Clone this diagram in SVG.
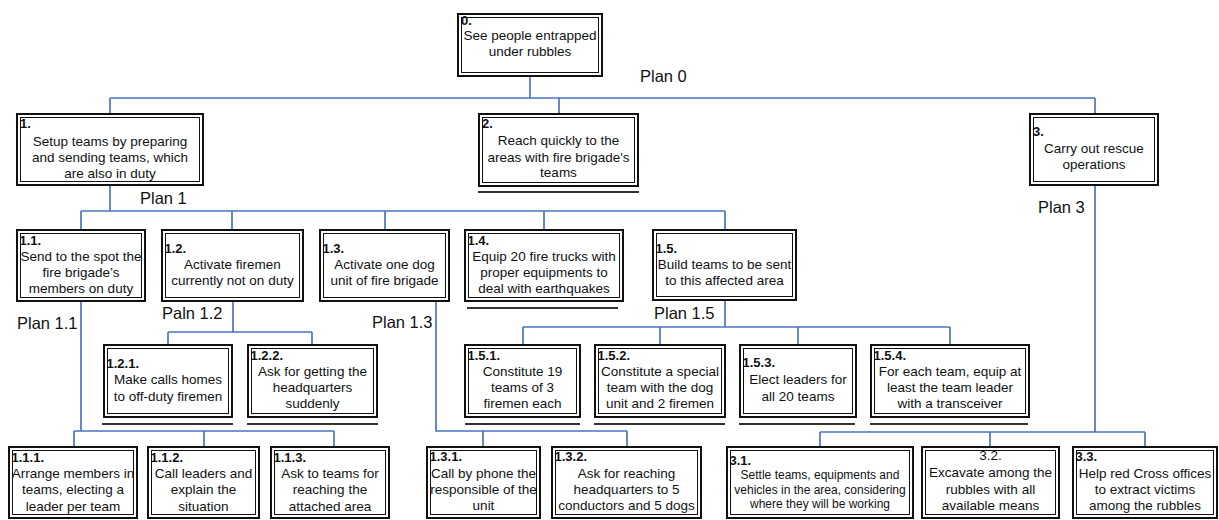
<svg xmlns="http://www.w3.org/2000/svg" width="1219" height="520" viewBox="0 0 1219 520">
  <style>
    .o { fill: #fff; stroke: #111; stroke-width: 2; }
    .i { fill: none; stroke: #111; stroke-width: 1; }
    text { font-family: "Liberation Sans", Arial, sans-serif; fill: #111; }
    .lbl { font-size: 13px; font-weight: bold; }
    .t { font-size: 13.5px; text-anchor: middle; }
    .ts { font-size: 12px; text-anchor: middle; }
    .plan { font-size: 16.5px; }
    .lk { fill: none; stroke: #4a74c0; stroke-width: 1.7; }
    .leaf { stroke: #333; stroke-width: 2; }
  </style>

  <!-- connectors -->
  <g id="connectors" class="lk">
    <path d="M530,77 V98 M110,98 H1095 M110,98 V113 M559,98 V113 M1095,98 V113"/>
    <path d="M110,186 V211 M81,211 H725 M81,211 V229 M232,211 V229 M385,211 V229 M544,211 V229 M725,211 V229"/>
    <path d="M81,302 V431 M74,431 H334 M74,431 V446 M204,431 V446 M334,431 V446"/>
    <path d="M233,302 V332 M168,332 H312 M168,332 V344 M312,332 V344"/>
    <path d="M436,302 V431 H627 M483,431 V446 M627,431 V446"/>
    <path d="M725,301 V327 M523,327 H950 M523,327 V344 M660,327 V344 M798,327 V344 M950,327 V344"/>
    <path d="M1095,186 V432 M820,432 H1145 M820,432 V446 M990,432 V446 M1145,432 V446"/>
  </g>

  <!-- leaf markers under undecomposed tasks -->
  <g id="leaf-marks" class="leaf">
    <line x1="478" y1="192" x2="639" y2="192"/>
    <line x1="467" y1="308" x2="618" y2="308"/>
    <line x1="102" y1="424" x2="233" y2="424"/>
    <line x1="247" y1="424" x2="378" y2="424"/>
    <line x1="465" y1="424" x2="580" y2="424"/>
    <line x1="594" y1="424" x2="725" y2="424"/>
    <line x1="739" y1="424" x2="855" y2="424"/>
    <line x1="870" y1="424" x2="1028" y2="424"/>
  </g>

  <!-- plan labels -->
  <g id="plans" class="plan">
    <text x="640" y="82">Plan 0</text>
    <text x="140" y="204">Plan 1</text>
    <text x="17" y="329">Plan 1.1</text>
    <text x="162" y="319">Paln 1.2</text>
    <text x="372" y="328">Plan 1.3</text>
    <text x="654" y="319">Plan 1.5</text>
    <text x="1038" y="213">Plan 3</text>
  </g>

  <!-- level 0 -->
  <g id="n0">
    <rect class="o" x="458" y="14" width="144" height="62"/>
    <rect class="i" x="461.5" y="17.5" width="137" height="55"/>
    <text class="lbl" x="461" y="25">0.</text>
    <text class="t" x="530" y="40">See people entrapped</text>
    <text class="t" x="530" y="56">under rubbles</text>
  </g>

  <!-- level 1 -->
  <g id="n1">
    <rect class="o" x="17" y="114" width="186" height="71"/>
    <rect class="i" x="20.5" y="117.5" width="179" height="64"/>
    <text class="lbl" x="20" y="128">1.</text>
    <text class="t" x="110" y="146">Setup teams by preparing</text>
    <text class="t" x="110" y="162">and sending teams, which</text>
    <text class="t" x="110" y="178">are also in duty</text>
  </g>
  <g id="n2">
    <rect class="o" x="479" y="114" width="159" height="72"/>
    <rect class="i" x="482.5" y="117.5" width="152" height="65"/>
    <text class="lbl" x="482" y="128">2.</text>
    <text class="t" x="558.5" y="145">Reach quickly to the</text>
    <text class="t" x="558.5" y="161.5">areas with fire brigade's</text>
    <text class="t" x="558.5" y="177">teams</text>
  </g>
  <g id="n3">
    <rect class="o" x="1030" y="114" width="128" height="71"/>
    <rect class="i" x="1033.5" y="117.5" width="121" height="64"/>
    <text class="lbl" x="1033" y="136">3.</text>
    <text class="t" x="1094" y="153">Carry out rescue</text>
    <text class="t" x="1094" y="169">operations</text>
  </g>

  <!-- level 2 -->
  <g id="n1-1">
    <rect class="o" x="17" y="230" width="128" height="71"/>
    <rect class="i" x="20.5" y="233.5" width="121" height="64"/>
    <text class="lbl" x="19.5" y="245">1.1.</text>
    <text class="t" x="81" y="261">Send to the spot the</text>
    <text class="t" x="81" y="277">fire brigade’s</text>
    <text class="t" x="81" y="293">members on duty</text>
  </g>
  <g id="n1-2">
    <rect class="o" x="162" y="230" width="141" height="71"/>
    <rect class="i" x="165.5" y="233.5" width="134" height="64"/>
    <text class="lbl" x="164.5" y="253">1.2.</text>
    <text class="t" x="232.5" y="269">Activate firemen</text>
    <text class="t" x="232.5" y="285">currently not on duty</text>
  </g>
  <g id="n1-3">
    <rect class="o" x="320" y="230" width="129" height="71"/>
    <rect class="i" x="323.5" y="233.5" width="122" height="64"/>
    <text class="lbl" x="322.5" y="253">1.3.</text>
    <text class="t" x="384.5" y="269">Activate one dog</text>
    <text class="t" x="384.5" y="285">unit of fire brigade</text>
  </g>
  <g id="n1-4">
    <rect class="o" x="465" y="230" width="158" height="71"/>
    <rect class="i" x="468.5" y="233.5" width="151" height="64"/>
    <text class="lbl" x="467.5" y="245">1.4.</text>
    <text class="t" x="544" y="261">Equip 20 fire trucks with</text>
    <text class="t" x="544" y="277">proper equipments to</text>
    <text class="t" x="544" y="293">deal with earthquakes</text>
  </g>
  <g id="n1-5">
    <rect class="o" x="653" y="230" width="143" height="70"/>
    <rect class="i" x="656.5" y="233.5" width="136" height="63"/>
    <text class="lbl" x="655.5" y="253">1.5.</text>
    <text class="t" x="724.5" y="269">Build teams to be sent</text>
    <text class="t" x="724.5" y="285">to this affected area</text>
  </g>

  <!-- level 3 (upper row) -->
  <g id="n1-2-1">
    <rect class="o" x="104" y="345" width="128" height="72"/>
    <rect class="i" x="107.5" y="348.5" width="121" height="65"/>
    <text class="lbl" x="106.5" y="368">1.2.1.</text>
    <text class="t" x="168" y="384">Make calls homes</text>
    <text class="t" x="168" y="401">to off-duty firemen</text>
  </g>
  <g id="n1-2-2">
    <rect class="o" x="248" y="345" width="129" height="72"/>
    <rect class="i" x="251.5" y="348.5" width="122" height="65"/>
    <text class="lbl" x="250.5" y="360">1.2.2.</text>
    <text class="t" x="312.5" y="376">Ask for getting the</text>
    <text class="t" x="312.5" y="392">headquarters</text>
    <text class="t" x="312.5" y="408">suddenly</text>
  </g>
  <g id="n1-5-1">
    <rect class="o" x="465" y="345" width="115" height="72"/>
    <rect class="i" x="468.5" y="348.5" width="108" height="65"/>
    <text class="lbl" x="467.5" y="360">1.5.1.</text>
    <text class="t" x="522.5" y="376">Constitute 19</text>
    <text class="t" x="522.5" y="392">teams of 3</text>
    <text class="t" x="522.5" y="408">firemen each</text>
  </g>
  <g id="n1-5-2">
    <rect class="o" x="595" y="345" width="130" height="72"/>
    <rect class="i" x="598.5" y="348.5" width="123" height="65"/>
    <text class="lbl" x="597.5" y="360">1.5.2.</text>
    <text class="t" x="660" y="376">Constitute a special</text>
    <text class="t" x="660" y="392">team with the dog</text>
    <text class="t" x="660" y="408">unit and 2 firemen</text>
  </g>
  <g id="n1-5-3">
    <rect class="o" x="740" y="345" width="116" height="72"/>
    <rect class="i" x="743.5" y="348.5" width="109" height="65"/>
    <text class="lbl" x="742.5" y="367">1.5.3.</text>
    <text class="t" x="798" y="384">Elect leaders for</text>
    <text class="t" x="798" y="401">all 20 teams</text>
  </g>
  <g id="n1-5-4">
    <rect class="o" x="871" y="345" width="158" height="72"/>
    <rect class="i" x="874.5" y="348.5" width="151" height="65"/>
    <text class="lbl" x="873.5" y="360">1.5.4.</text>
    <text class="t" x="950" y="376">For each team, equip at</text>
    <text class="t" x="950" y="392">least the team leader</text>
    <text class="t" x="950" y="408">with a transceiver</text>
  </g>

  <!-- bottom row -->
  <g id="n1-1-1">
    <rect class="o" x="9" y="447" width="128" height="71"/>
    <rect class="i" x="12.5" y="450.5" width="121" height="64"/>
    <text class="lbl" x="11.5" y="462">1.1.1.</text>
    <text class="t" x="73" y="478">Arrange members in</text>
    <text class="t" x="73" y="494">teams, electing a</text>
    <text class="t" x="73" y="511">leader per team</text>
  </g>
  <g id="n1-1-2">
    <rect class="o" x="148" y="447" width="111" height="71"/>
    <rect class="i" x="151.5" y="450.5" width="104" height="64"/>
    <text class="lbl" x="150.5" y="462">1.1.2.</text>
    <text class="t" x="203.5" y="478">Call leaders and</text>
    <text class="t" x="203.5" y="494">explain the</text>
    <text class="t" x="203.5" y="511">situation</text>
  </g>
  <g id="n1-1-3">
    <rect class="o" x="271" y="447" width="118" height="71"/>
    <rect class="i" x="274.5" y="450.5" width="111" height="64"/>
    <text class="lbl" x="273.5" y="462">1.1.3.</text>
    <text class="t" x="330" y="478">Ask to teams for</text>
    <text class="t" x="330" y="494">reaching the</text>
    <text class="t" x="330" y="511">attached area</text>
  </g>
  <g id="n1-3-1">
    <rect class="o" x="427" y="447" width="113" height="71"/>
    <rect class="i" x="430.5" y="450.5" width="106" height="64"/>
    <text class="lbl" x="429.5" y="461">1.3.1.</text>
    <text class="t" x="483.5" y="478">Call by phone the</text>
    <text class="t" x="483.5" y="494">responsible of the</text>
    <text class="t" x="483.5" y="510">unit</text>
  </g>
  <g id="n1-3-2">
    <rect class="o" x="552" y="447" width="149" height="71"/>
    <rect class="i" x="555.5" y="450.5" width="142" height="64"/>
    <text class="lbl" x="554.5" y="461">1.3.2.</text>
    <text class="t" x="626.5" y="478">Ask for reaching</text>
    <text class="t" x="626.5" y="494">headquarters to 5</text>
    <text class="t" x="626.5" y="510">conductors and 5 dogs</text>
  </g>
  <g id="n3-1">
    <rect class="o" x="727" y="447" width="186" height="71"/>
    <rect class="i" x="730.5" y="450.5" width="179" height="64"/>
    <text class="lbl" x="729.5" y="465">3.1.</text>
    <text class="ts" x="820" y="479">Settle teams, equipments and</text>
    <text class="ts" x="820" y="494">vehicles in the area, considering</text>
    <text class="ts" x="820" y="508">where they will be working</text>
  </g>
  <g id="n3-2">
    <rect class="o" x="922" y="447" width="137" height="71"/>
    <rect class="i" x="925.5" y="450.5" width="130" height="64"/>
    <text class="t" x="990.5" y="460">3.2.</text>
    <text class="t" x="990.5" y="477">Excavate among the</text>
    <text class="t" x="990.5" y="494">rubbles with all</text>
    <text class="t" x="990.5" y="510">available means</text>
  </g>
  <g id="n3-3">
    <rect class="o" x="1073" y="447" width="144" height="71"/>
    <rect class="i" x="1076.5" y="450.5" width="137" height="64"/>
    <text class="lbl" x="1075.5" y="461">3.3.</text>
    <text class="t" x="1145" y="478">Help red Cross offices</text>
    <text class="t" x="1145" y="494">to extract victims</text>
    <text class="t" x="1145" y="510">among the rubbles</text>
  </g>
</svg>
